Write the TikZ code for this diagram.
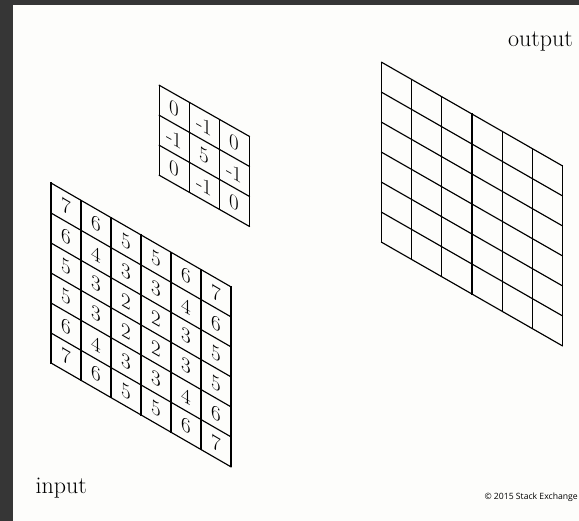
\documentclass[tikz,border=0pt]{standalone}
\usepackage{fontspec}
\newfontfamily\copyfont{Open Sans}
\definecolor{frame}{HTML}{363636}
\definecolor{paper}{HTML}{FDFDFB}
\begin{document}
\begin{tikzpicture}[x=1pt,y=1pt,
  gridline/.style={line width=1.15pt,black,line join=miter,line cap=rect},
  cell/.style={transform shape,inner sep=0pt,font=\fontsize{21}{21}\selectfont},
  lbl/.style={inner sep=0pt,font=\fontsize{24}{24}\selectfont}]
\useasboundingbox (0,0) rectangle (579,-521);
\fill[frame] (0,0) rectangle (579,-521);
\fill[paper] (13,-5) rectangle (579,-521);

% input grid
\begin{scope}[cm={1,-0.577,0,1,(51pt,-363pt)},x=30pt,y=30pt]
  \foreach \i in {0,...,6}{
    \draw[gridline] (\i,0) -- (\i,6);
    \draw[gridline] (0,\i) -- (6,\i);
  }
  \foreach \v [count=\k from 0] in {7,6,5,5,6,7,
                                    6,4,3,3,4,6,
                                    5,3,2,2,3,5,
                                    5,3,2,2,3,5,
                                    6,4,3,3,4,6,
                                    7,6,5,5,6,7}{
    \pgfmathtruncatemacro{\c}{mod(\k,6)}
    \pgfmathtruncatemacro{\r}{int(\k/6)}
    \node[cell] (in-\k) at (\c+0.5,5.5-\r) {\v};
  }
\end{scope}

% kernel
\begin{scope}[cm={1,-0.567,0,1,(159.3pt,-175.3pt)},x=30pt,y=30pt]
  \foreach \i in {0,...,3}{
    \draw[gridline] (\i,0) -- (\i,3);
    \draw[gridline] (0,\i) -- (3,\i);
  }
  \foreach \v [count=\k from 0] in {0,-1,0,
                                    -1,5,-1,
                                    0,-1,0}{
    \pgfmathtruncatemacro{\c}{mod(\k,3)}
    \pgfmathtruncatemacro{\r}{int(\k/3)}
    \node[cell] (k-\k) at (\c+0.5,2.5-\r) {\v};
  }
\end{scope}

% output grid
\begin{scope}[cm={1,-0.573,0,1,(381.7pt,-242.3pt)},x=30.1pt,y=30pt]
  \foreach \i in {0,...,6}{
    \draw[gridline] (\i,0) -- (\i,6);
    \draw[gridline] (0,\i) -- (6,\i);
  }
\end{scope}

\node[lbl,anchor=base west] (input) at (35.5,-494) {input};
\node[lbl,anchor=base east] (output) at (573,-46.5) {output};
\node[inner sep=0pt,anchor=base east,font=\copyfont\fontsize{8.65}{8.65}\selectfont] (copy) at (578,-499.5) {© 2015 Stack Exchange};
\end{tikzpicture}
\end{document}
